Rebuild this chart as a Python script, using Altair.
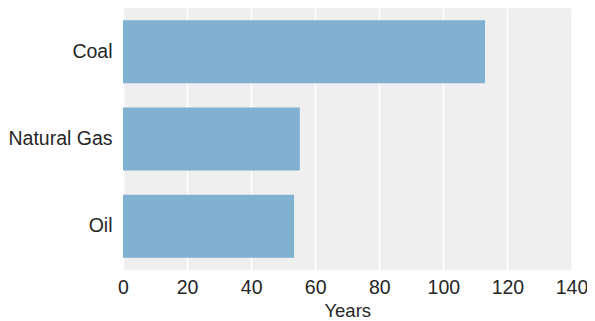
import altair as alt
import pandas as pd

categories = ["Coal", "Natural Gas", "Oil"]
years = [113, 55.2, 53.4]

df = pd.DataFrame({"fuel": categories, "years": years})

chart = alt.Chart(df).mark_bar(color="#80b1d1").encode(
    x=alt.X("years:Q", title="Years",
            scale=alt.Scale(domain=[0, 140], nice=False),
            axis=alt.Axis(values=[0, 20, 40, 60, 80, 100, 120, 140], grid=True,
                          gridColor="white", gridWidth=1.5, domain=False, ticks=False,
                          labelFontSize=19.5, labelPadding=8, labelColor="#262626",
                          labelFont="Liberation Sans", titleFont="Liberation Sans",
                          titleFontSize=18.5, titleFontWeight="normal", titleColor="#262626",
                          titlePadding=5, labelFlush=False)),
    y=alt.Y("fuel:N", title=None, sort=categories,
            scale=alt.Scale(paddingInner=0.276, paddingOuter=0.14),
            axis=alt.Axis(domain=False, ticks=False, grid=False, labelFontSize=19.5,
                          labelPadding=11, labelColor="#262626", labelFont="Liberation Sans")),
).properties(
    width=448.5, height=262,
    autosize=alt.AutoSizeParams(type="none"),
    padding={"left": 115, "top": 0, "right": 15.5, "bottom": 50},
).configure_view(
    fill="#efefef", stroke=None
)

chart.save("out.html", embed_options={"renderer": "svg", "actions": False})
